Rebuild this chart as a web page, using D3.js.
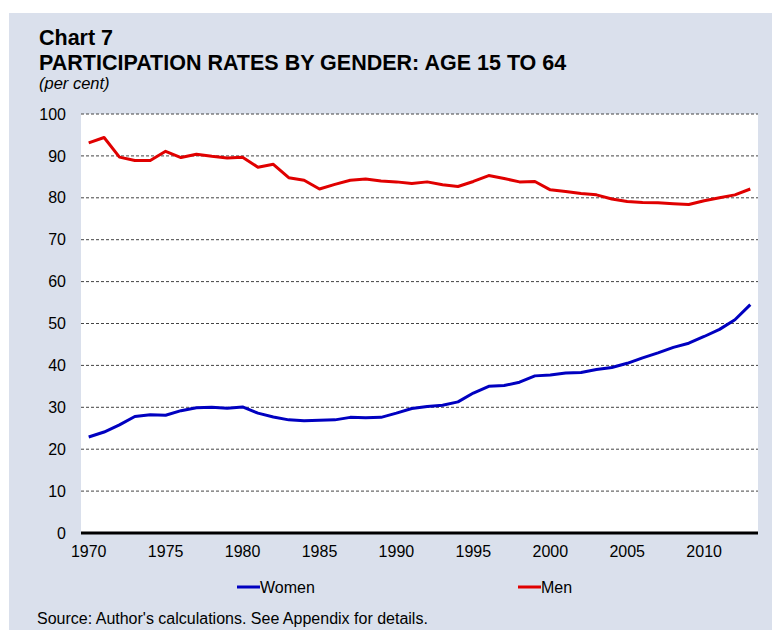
<!DOCTYPE html>
<html><head><meta charset="utf-8">
<script src="https://cdn.jsdelivr.net/npm/d3@7"></script>
<style>body{margin:0;background:#fff;}svg{display:block;font-family:Arial,"Liberation Sans",sans-serif;}</style>
</head><body><svg id="c" width="772" height="630"></svg>
<script>
const years = d3.range(1970, 2014);
const women = [22.9,24.1,25.8,27.8,28.2,28.1,29.2,29.9,30.0,29.8,30.1,28.6,27.7,27.0,26.8,26.9,27.0,27.6,27.5,27.6,28.6,29.7,30.2,30.5,31.3,33.4,35.0,35.2,36.0,37.5,37.7,38.2,38.3,39.0,39.5,40.5,41.8,43.0,44.3,45.3,46.9,48.6,50.9,54.5];
const men = [93.1,94.4,89.7,88.9,88.9,91.1,89.6,90.4,89.9,89.5,89.7,87.3,88.0,84.8,84.2,82.1,83.2,84.2,84.5,84.0,83.8,83.4,83.8,83.1,82.7,83.9,85.3,84.6,83.8,83.9,81.9,81.5,81.0,80.7,79.7,79.1,78.9,78.8,78.6,78.4,79.3,80.0,80.7,82.1];
const yTicks = [0,10,20,30,40,50,60,70,80,90,100];
const xLabels = [1970,1975,1980,1985,1990,1995,2000,2005,2010];
const seriesNames = ["Women","Men"];
const seriesColors = ["#0000C0","#E00000"];

const svg = d3.select("#c");
svg.append("rect").attr("x",9).attr("y",13).attr("width",763).attr("height",617).attr("fill","#DAE0EC");

const L=81,R=758,T=114,B=533;
svg.append("rect").attr("x",L).attr("y",T).attr("width",R-L).attr("height",B-T).attr("fill","#fff");

const x = d3.scaleBand().domain(years).range([L,R]);
const y = d3.scaleLinear().domain([0,100]).range([B,T]);
const cx = d => x(d)+x.bandwidth()/2;

// title
svg.append("text").attr("x",39).attr("y",45).attr("font-size",21.5).attr("font-weight","bold").text("Chart 7");
svg.append("text").attr("x",39).attr("y",70).attr("font-size",21.5).attr("font-weight","bold").text("PARTICIPATION RATES BY GENDER: AGE 15 TO 64");
svg.append("text").attr("x",39).attr("y",89).attr("font-size",16.5).attr("font-style","italic").text("(per cent)");

// gridlines
svg.append("g").selectAll("line").data(yTicks.filter(d=>d>0)).join("line")
  .attr("x1",L).attr("x2",R).attr("y1",d=>y(d)).attr("y2",d=>y(d))
  .attr("stroke","#444").attr("stroke-width",1).attr("stroke-dasharray","3,2");

// y axis labels
const ya = svg.append("g").attr("transform",`translate(${L},0)`)
  .call(d3.axisLeft(y).tickValues(yTicks).tickSize(0).tickPadding(15));
ya.select(".domain").remove();
ya.selectAll("text").attr("font-size",16).attr("fill","#000").attr("font-family","Arial,'Liberation Sans',sans-serif");

// x axis
const xa = svg.append("g").attr("transform",`translate(0,${B})`)
  .call(d3.axisBottom(x).tickValues(xLabels).tickSize(0).tickPadding(13));
xa.select(".domain").remove();
xa.selectAll("text").attr("font-size",16).attr("fill","#000").attr("font-family","Arial,'Liberation Sans',sans-serif");
svg.append("line").attr("x1",L).attr("x2",R).attr("y1",B).attr("y2",B).attr("stroke","#000").attr("stroke-width",3);

// lines
const line = d3.line().x((d,i)=>cx(years[i])).y(d=>y(d));
[women,men].forEach((s,k)=>{
  svg.append("path").datum(s).attr("d",line).attr("fill","none")
    .attr("stroke",seriesColors[k]).attr("stroke-width",3).attr("stroke-linejoin","round");
});

// legend
const legX=[237,518];
seriesNames.forEach((n,k)=>{
  svg.append("line").attr("x1",legX[k]).attr("x2",legX[k]+23).attr("y1",587).attr("y2",587)
    .attr("stroke",seriesColors[k]).attr("stroke-width",3);
  svg.append("text").attr("x",legX[k]+23).attr("y",593).attr("font-size",16).text(n);
});

svg.append("text").attr("x",37).attr("y",624).attr("font-size",16).text("Source: Author's calculations. See Appendix for details.");
</script></body></html>
